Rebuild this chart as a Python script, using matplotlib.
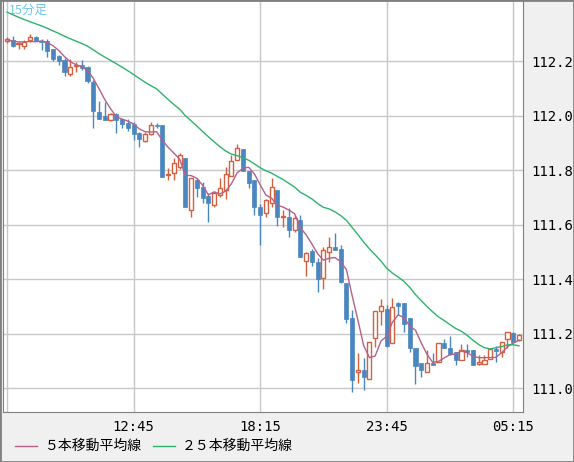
import matplotlib
matplotlib.use("Agg")
import matplotlib.pyplot as plt
from matplotlib.lines import Line2D
from matplotlib.patches import Rectangle
import numpy as np
import pandas as pd

# 15-minute bars starting 07:15
opens = [112.272, 112.277, 112.261, 112.256, 112.276, 112.287, 112.275, 112.275, 112.244, 112.218,
         112.204, 112.154, 112.181, 112.185, 112.179, 112.122, 112.012, 111.998, 111.983, 112.005,
         111.986, 111.974, 111.970, 111.937, 111.905, 111.931, 111.966, 111.964, 111.783, 111.788,
         111.810, 111.844, 111.653, 111.763, 111.739, 111.705, 111.672, 111.708, 111.727, 111.778,
         111.837, 111.876, 111.798, 111.763, 111.665, 111.641, 111.680, 111.727, 111.628, 111.627,
         111.580, 111.617, 111.467, 111.503, 111.464, 111.405, 111.500, 111.516, 111.510, 111.384,
         111.256, 111.060, 111.066, 111.032, 111.182, 111.283, 111.290, 111.166, 111.311, 111.311,
         111.256, 111.146, 111.093, 111.058, 111.093, 111.097, 111.164, 111.148, 111.133, 111.103,
         111.140, 111.140, 111.087, 111.088, 111.107, 111.142, 111.131, 111.180, 111.201, 111.176]
highs = [112.289, 112.292, 112.271, 112.277, 112.299, 112.292, 112.281, 112.281, 112.244, 112.222,
         112.211, 112.206, 112.198, 112.204, 112.183, 112.130, 112.053, 112.051, 112.008, 112.008,
         111.992, 111.987, 111.977, 111.941, 111.941, 111.977, 111.973, 111.964, 111.806, 111.843,
         111.861, 111.844, 111.770, 111.770, 111.757, 111.717, 111.724, 111.770, 111.812, 111.855,
         111.896, 111.876, 111.798, 111.763, 111.675, 111.693, 111.770, 111.727, 111.653, 111.661,
         111.635, 111.635, 111.500, 111.509, 111.476, 111.519, 111.555, 111.568, 111.525, 111.384,
         111.286, 111.127, 111.109, 111.168, 111.284, 111.326, 111.305, 111.329, 111.317, 111.311,
         111.256, 111.146, 111.093, 111.140, 111.130, 111.164, 111.179, 111.191, 111.133, 111.160,
         111.160, 111.140, 111.121, 111.121, 111.148, 111.154, 111.170, 111.207, 111.207, 111.198]
lows = [112.267, 112.253, 112.243, 112.245, 112.271, 112.272, 112.241, 112.216, 112.200, 112.185,
        112.145, 112.144, 112.159, 112.167, 112.118, 111.953, 111.988, 111.984, 111.980, 111.935,
        111.955, 111.943, 111.910, 111.883, 111.902, 111.929, 111.955, 111.776, 111.763, 111.763,
        111.803, 111.663, 111.629, 111.702, 111.678, 111.610, 111.665, 111.702, 111.693, 111.778,
        111.837, 111.798, 111.733, 111.635, 111.525, 111.629, 111.665, 111.595, 111.590, 111.555,
        111.571, 111.482, 111.411, 111.449, 111.353, 111.363, 111.464, 111.507, 111.384, 111.237,
        110.986, 111.019, 110.993, 111.032, 111.152, 111.231, 111.152, 111.166, 111.268, 111.207,
        111.133, 111.014, 111.042, 111.058, 111.084, 111.097, 111.146, 111.121, 111.084, 111.103,
        111.115, 111.084, 111.084, 111.088, 111.107, 111.097, 111.115, 111.148, 111.164, 111.174]
closes = [112.280, 112.256, 112.265, 112.271, 112.287, 112.275, 112.271, 112.238, 112.209, 112.201,
          112.161, 112.177, 112.185, 112.173, 112.128, 112.018, 111.988, 111.985, 112.005, 111.983,
          111.970, 111.955, 111.933, 111.913, 111.932, 111.965, 111.960, 111.776, 111.785, 111.825,
          111.855, 111.663, 111.770, 111.735, 111.698, 111.678, 111.717, 111.733, 111.785, 111.834,
          111.880, 111.798, 111.754, 111.665, 111.635, 111.690, 111.737, 111.627, 111.631, 111.580,
          111.623, 111.482, 111.494, 111.464, 111.400, 111.507, 111.516, 111.507, 111.390, 111.253,
          111.029, 111.065, 111.042, 111.168, 111.284, 111.302, 111.155, 111.298, 111.302, 111.235,
          111.146, 111.081, 111.066, 111.093, 111.084, 111.164, 111.146, 111.125, 111.103, 111.140,
          111.133, 111.084, 111.097, 111.103, 111.142, 111.137, 111.170, 111.207, 111.170, 111.194]
# closes before the visible window (needed for the moving averages)
prior_closes = [112.50, 112.49, 112.49, 112.48, 112.47, 112.46, 112.46, 112.45, 112.43, 112.42,
                112.41, 112.40, 112.39, 112.37, 112.36, 112.33, 112.31, 112.30, 112.29, 112.29,
                112.28, 112.28, 112.27, 112.28]
tick_idx = [0, 22, 44, 66, 88]
tick_labels = ["", "12:45", "18:15", "23:45", "05:15"]
y_ticks = [111.0, 111.2, 111.4, 111.6, 111.8, 112.0, 112.2]

BLUE = "#4a86bf"
RED = "#d4603e"
MA5_C = "#b5618c"
MA25_C = "#2db36f"
BG = "#f0f0f0"

allc = pd.Series(prior_closes + closes)
n_prior = len(prior_closes)
ma5 = allc.rolling(5).mean().values[n_prior:]
ma25 = allc.rolling(25).mean().values[n_prior:]

fig = plt.figure(figsize=(5.74, 4.62), dpi=100, facecolor=BG)
ax = fig.add_axes([3 / 574, 50 / 462, 520 / 574, 412 / 462])
ax.set_facecolor("white")

x = np.arange(len(closes))
ax.set_xlim(-0.7, 89.7)
ax.set_ylim(110.912, 112.424)
ax.set_xticks(tick_idx)
ax.set_xticklabels(tick_labels, family="DejaVu Sans Mono", fontsize=10)
ax.set_yticks(y_ticks)
ax.set_yticklabels([f"{v:.1f}" for v in y_ticks], family="DejaVu Sans Mono", fontsize=10)
ax.yaxis.tick_right()
ax.tick_params(length=0, pad=6)
ax.grid(True, color="#c8c8c8", lw=1)
ax.set_axisbelow(True)
for s in ax.spines.values():
    s.set_color("#808080")
ax.spines["top"].set_visible(False)

w = 0.72
for i in x:
    o, h, l, c = opens[i], highs[i], lows[i], closes[i]
    up = c >= o
    col = RED if up else BLUE
    ax.vlines(i, l, h, color=col, lw=1.0, zorder=2)
    bot, hgt = min(o, c), max(abs(c - o), 0.002)
    if up:
        ax.add_patch(Rectangle((i - w / 2, bot), w, hgt, facecolor="white",
                               edgecolor=col, lw=1.0, zorder=3))
    else:
        ax.add_patch(Rectangle((i - w / 2, bot), w, hgt, facecolor=col,
                               edgecolor=col, lw=0.5, zorder=3))

ax.plot(x, ma5, color=MA5_C, lw=1, zorder=4)
ax.plot(x, ma25, color=MA25_C, lw=1, zorder=4)

ax.text(0.012, 0.99, "15分足", transform=ax.transAxes, va="top", ha="left",
        color="#6ec6ee", fontsize=9, family=["Noto Sans CJK JP", "DejaVu Sans"])

# legend at the bottom
fig.add_artist(Line2D([15 / 574, 37 / 574], [1 - 446 / 462] * 2, color=MA5_C, lw=1))
fig.text(45 / 574, 1 - 446 / 462, "５本移動平均線", va="center", fontsize=10,
         family=["Noto Sans CJK JP", "DejaVu Sans"])
fig.add_artist(Line2D([153 / 574, 175 / 574], [1 - 446 / 462] * 2, color=MA25_C, lw=1))
fig.text(182 / 574, 1 - 446 / 462, "２５本移動平均線", va="center", fontsize=10,
         family=["Noto Sans CJK JP", "DejaVu Sans"])
fig.add_artist(Rectangle((0, 0), 1, 1, transform=fig.transFigure, fill=False,
                         edgecolor="#808080", lw=2))

fig.savefig("out.png", dpi=100, facecolor=BG)
